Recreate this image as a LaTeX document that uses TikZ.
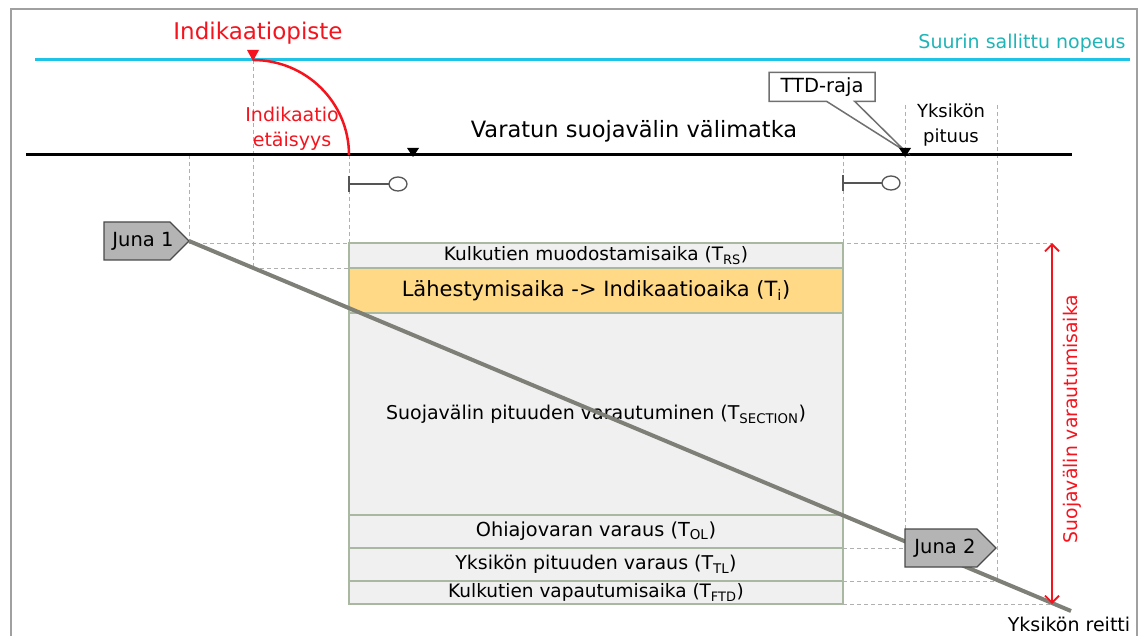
\documentclass[tikz,border=0pt]{standalone}
\usepackage{fontspec}
\setmainfont{DejaVu Sans}
\usetikzlibrary{shapes.symbols,shapes.callouts,arrows.meta}

\definecolor{framec}{HTML}{A0A0A0}
\definecolor{cyanc}{HTML}{1EC3E6}
\definecolor{tealc}{HTML}{1FB5B8}
\definecolor{redc}{HTML}{F5141E}
\definecolor{boxc}{HTML}{A9B8A0}
\definecolor{rowc}{HTML}{F0F0F0}
\definecolor{yellowc}{HTML}{FFD985}
\definecolor{trainc}{HTML}{B4B4B4}
\definecolor{trainedge}{HTML}{4A4A4A}
\definecolor{pathc}{HTML}{7E8078}
\definecolor{dashc}{HTML}{B0B0B0}
\definecolor{sigc}{HTML}{555555}
\definecolor{calloutc}{HTML}{707070}

\newcommand\fsz[2]{\fontsize{#1}{#2}\selectfont}

\begin{document}
\begin{tikzpicture}[x=1pt,y=-1pt,
  guide/.style={dashc, line width=0.9, dash pattern=on 4pt off 3pt},
  row/.style={draw=boxc, fill=rowc, line width=1.3, anchor=north west,
    minimum width=494, inner sep=0, outer sep=0},
  train/.style={signal, signal to=east, signal pointer angle=90, draw=trainedge,
    fill=trainc, line width=1.2, minimum height=38, anchor=west,
    inner sep=0, outer sep=0},
  trainlabel/.style={font=\fsz{19.5}{23}, xshift=#1},
  marker/.style={fill=black},
  sigpost/.style={sigc, line width=1.3},
  barb/.tip={Straight Barb[length=7pt,width=14pt]}]

\useasboundingbox (0,0) rectangle (1141,636);
\clip (0,0) rectangle (1141,636);
\fill[white] (0,0) rectangle (1141,636);

% outer frame
\draw[framec, line width=2] (11,9) rectangle (1137,650);

% speed limit line
\node[font=\fsz{19}{23}, text=tealc, anchor=east] (vmax) at (1129,43) {Suurin sallittu nopeus};
\draw[cyanc, line width=3] (35,60) -- (1130,60);

% indication point
\node[font=\fsz{23}{27}, text=redc] (indpt) at (258,33) {Indikaatiopiste};
\coordinate (ip) at (253,60);

% guide lines
\draw[guide] (189,155) -- (189,243);
\draw[guide] (ip) -- (253,268);
\draw[guide] (349,155) -- (349,243);
\draw[guide] (843,155) -- (843,243);
\draw[guide] (905,105) -- (905,529);
\draw[guide] (997,105) -- (997,581);
\draw[guide] (189,243) -- (1052,243);
\draw[guide] (253,268) -- (349,268);
\draw[guide] (843,548) -- (905,548);
\draw[guide] (843,581) -- (997,581);
\draw[guide] (843,604) -- (1052,604);

% track
\draw[black, line width=3] (26,155) -- (1072,155);
\node[font=\fsz{22.5}{26}] (dist) at (634,131) {Varatun suojavälin välimatka};

% indication distance arc
\draw[redc, line width=2.5] (ip) arc[start angle=-90, end angle=0, x radius=96, y radius=95];
\fill[redc] (247,50) -- (259,50) -- (253,61) -- cycle;
\node[font=\fsz{19}{25}, text=redc, align=center] (inddist) at (292,129) {Indikaatio\\etäisyys};

% TTD boundary callout
\node[rectangle callout, draw=calloutc, fill=white, line width=1.5,
  minimum width=106, minimum height=29, inner sep=0,
  callout absolute pointer={(905,151)}, callout pointer width=28,
  font=\fsz{19.5}{23}] (ttd) at (822,87) {TTD-raja};
\node[font=\fsz{18}{25}, align=center] (unitlen) at (951,125) {Yksikön\\pituus};

% track markers
\fill[marker] (407,148) -- (419,148) -- (413,157) -- cycle;
\fill[marker] (899,148) -- (911,148) -- (905,157) -- cycle;

% signals
\draw[sigpost] (349,176) -- (349,192);
\draw[sigpost] (349,184) -- (389,184);
\draw[sigpost, fill=white] (398,184) ellipse[x radius=9, y radius=7];
\draw[sigpost] (843,175) -- (843,191);
\draw[sigpost] (843,183) -- (882,183);
\draw[sigpost, fill=white] (891,183) ellipse[x radius=9, y radius=7];

% time components
\node[row, minimum height=25, font=\fsz{18.5}{21}] (trs) at (349,243) {Kulkutien muodostamisaika (T\textsubscript{RS})};
\node[row, fill=yellowc, minimum height=45, font=\fsz{21}{24}] (ti) at (349,268) {Lähestymisaika -> Indikaatioaika (T\textsubscript{i})};
\node[row, minimum height=202, font=\fsz{19}{22}] (tsec) at (349,313) {Suojavälin pituuden varautuminen (T\textsubscript{SECTION})};
\node[row, minimum height=33, font=\fsz{19.3}{22}] (tol) at (349,515) {Ohiajovaran varaus (T\textsubscript{OL})};
\node[row, minimum height=33, font=\fsz{19}{22}] (ttl) at (349,548) {Yksikön pituuden varaus (T\textsubscript{TL})};
\node[row, minimum height=23, font=\fsz{18.5}{21}] (tftd) at (349,581) {Kulkutien vapautumisaika (T\textsubscript{FTD})};

% train path
\node[train, minimum width=85, label={[trainlabel=6pt]center:Juna 1}] (juna1) at (104,241) {};
\coordinate (pathend) at (1071,611);
\draw[pathc, line width=4] (juna1.east) -- (pathend);
\node[train, minimum width=91, label={[trainlabel=4pt]center:Juna 2}] (juna2) at (905,548) {};
\node[font=\fsz{19}{23}] (route) at (1069,624) {Yksikön reitti};

% reservation time
\coordinate (rtop) at (1052,243);
\coordinate (rbot) at (1052,604);
\draw[redc, line width=1.8, barb-barb] (rtop) -- (rbot);
\node[rotate=90, font=\fsz{18.8}{22}, text=redc] (reslab) at (1072,419) {Suojavälin varautumisaika};

\end{tikzpicture}
\end{document}
